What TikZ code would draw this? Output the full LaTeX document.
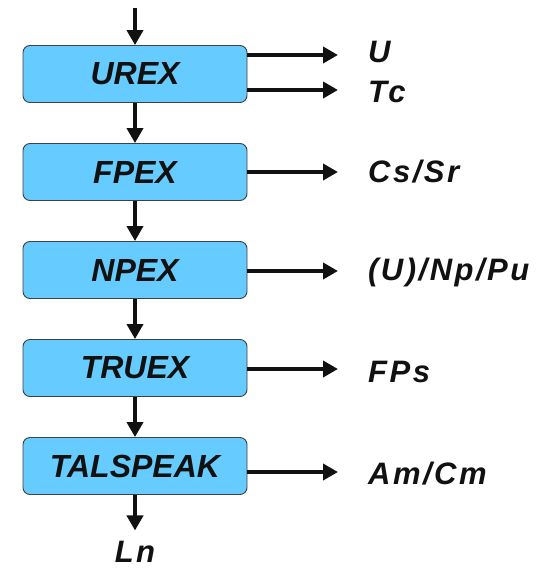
\documentclass[tikz,border=0pt]{standalone}
\usepackage{fontspec}
\setmainfont{Liberation Sans}
\newfontfamily\labelfont[LetterSpace=8]{Liberation Sans}
\usetikzlibrary{arrows.meta}
\definecolor{boxblue}{HTML}{66CCFF}
\definecolor{inkblack}{HTML}{111111}
\newcommand\stageX{135}
\newcommand\labelX{368}
\tikzset{
	stage/.style={draw=black!75, line width=0.9pt, fill=boxblue, rounded corners=7pt,
		minimum width=224pt, minimum height=57pt, text=inkblack,
		font=\fontsize{32}{32}\selectfont\bfseries\itshape},
	product/.style={anchor=west, inner sep=0pt, text=inkblack,
		font=\labelfont\fontsize{31}{31}\selectfont\bfseries\itshape},
	flow/.style={draw=inkblack, line width=4.5pt, -{Triangle[length=15pt,width=16pt]}},
}

\begin{document}
\begin{tikzpicture}[x=1pt,y=-1pt]
	\useasboundingbox (0,0) rectangle (549,568);

	\node[stage] (urex) at (\stageX,74) {UREX};
	\node[stage] (fpex) at (\stageX,172) {FPEX};
	\node[stage] (npex) at (\stageX,270) {NPEX};
	\node[stage] (truex) at (\stageX,368) {TRUEX};
	\node[stage] (talspeak) at (\stageX,466) {TALSPEAK};

	\node[product] (u) at (\labelX,52) {U};
	\node[product] (tc) at (\labelX,92) {Tc};
	\node[product] (cssr) at (\labelX,172) {Cs/Sr};
	\node[product] (nppu) at (\labelX,272) {(U)/Np/Pu};
	\node[product] (fps) at (\labelX,372) {FPs};
	\node[product] (amcm) at (\labelX,474) {Am/Cm};
	\node[product, anchor=base] (ln) at (\stageX,562) {Ln};

	\coordinate (feed) at (\stageX,8);

	% main line
	\draw[flow] (feed) -- (urex.north);
	\draw[flow] (urex) -- (fpex);
	\draw[flow] (fpex) -- (npex);
	\draw[flow] (npex) -- (truex);
	\draw[flow] (truex) -- (talspeak);
	\draw[flow, shorten >=10pt] (talspeak.south) -- (ln.north);

	% products
	\draw[flow, shorten >=30pt] (urex.east |- 0,55) -- (u.west |- 0,55);
	\draw[flow, shorten >=30pt] (urex.east |- 0,90) -- (tc.west |- 0,90);
	\draw[flow, shorten >=30pt] (fpex.east) -- (cssr.west |- fpex.east);
	\draw[flow, shorten >=30pt] (npex.east |- 0,271) -- (nppu.west |- 0,271);
	\draw[flow, shorten >=30pt] (truex.east |- 0,369) -- (fps.west |- 0,369);
	\draw[flow, shorten >=30pt] (talspeak.east |- 0,472) -- (amcm.west |- 0,472);
\end{tikzpicture}
\end{document}
